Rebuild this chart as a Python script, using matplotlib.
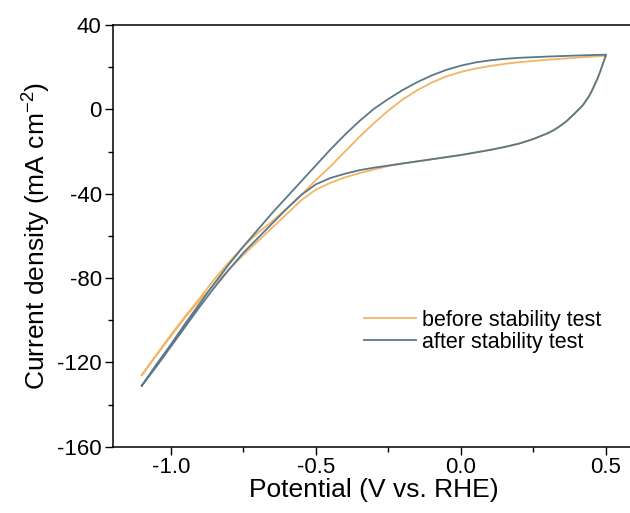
import matplotlib
matplotlib.use("Agg")
import matplotlib.pyplot as plt
from matplotlib.ticker import MultipleLocator, FormatStrFormatter

plt.rcParams['font.family'] = ['Liberation Sans', 'DejaVu Sans']
plt.rcParams['mathtext.default'] = 'regular'
plt.rcParams['axes.unicode_minus'] = False

# anodic (return) branch, -1.1 V -> 0.5 V
up_x = [-1.1, -1.05, -1.0, -0.95, -0.9, -0.85, -0.8, -0.75, -0.7, -0.65, -0.6, -0.55, -0.5,
        -0.45, -0.4, -0.35, -0.3, -0.25, -0.2, -0.15, -0.1, -0.05, 0.0, 0.05, 0.1, 0.15,
        0.2, 0.3, 0.4, 0.5]
before_up = [-126, -116.5, -107, -98, -89.5, -80.5, -72.5, -65, -58.5, -53, -47, -40.5, -33.5,
             -27, -20, -13, -6.5, -0.5, 4.8, 9.2, 12.8, 15.7, 17.8, 19.4, 20.6, 21.6,
             22.4, 23.6, 24.6, 25.5]
after_up = [-131, -121, -111.5, -101.5, -92, -82.5, -73.5, -65, -57, -49, -41.5, -34, -26.5,
            -19, -12, -5.5, 0.3, 5, 9.3, 13, 16.2, 18.8, 20.8, 22.3, 23.3, 24,
            24.5, 25.1, 25.6, 26]

# cathodic branch, 0.5 V -> -1.1 V
down_x = [0.5, 0.49, 0.48, 0.47, 0.46, 0.45, 0.44, 0.42, 0.4, 0.38, 0.36, 0.34, 0.32, 0.3,
          0.25, 0.2, 0.15, 0.1, 0.05, 0.0, -0.05, -0.1, -0.15, -0.2, -0.25, -0.3, -0.35,
          -0.4, -0.45, -0.5, -0.55, -0.6, -0.65, -0.7, -0.75, -0.8, -0.85, -0.9, -0.95,
          -1.0, -1.05, -1.1]
before_down = [25.5, 22, 18, 14.5, 11.5, 8.5, 6, 2, -0.8, -3.5, -6, -8, -9.8, -11.2,
               -14, -16.2, -17.8, -19.2, -20.4, -21.6, -22.6, -23.6, -24.6, -25.6, -26.8, -28.5, -30.2,
               -32.2, -34.8, -38, -43, -49.5, -56, -62.5, -69, -76, -83, -90.5, -98.5,
               -107.5, -116.5, -126]
after_down = [26, 22, 18, 14.5, 11.5, 8.5, 6, 2, -0.8, -3.5, -6, -8, -9.8, -11.2,
              -14, -16.2, -17.8, -19.2, -20.4, -21.6, -22.6, -23.6, -24.6, -25.6, -26.6, -27.6, -28.8,
              -30.5, -32.5, -35.5, -40.5, -47, -54, -61, -68, -76, -84.5, -93.5, -103,
              -112.5, -122, -131]

labels = ["before stability test", "after stability test"]
colors = ["#F2B562", "#5B7889"]

fig = plt.figure(figsize=(6.3, 5.13), dpi=100)
ax = fig.add_axes([0.179, 0.129, 0.829, 0.822])

ax.plot(up_x + down_x, before_up + before_down, color=colors[0], lw=1.3, label=labels[0])
ax.plot(up_x + down_x, after_up + after_down, color=colors[1], lw=1.3, label=labels[1])

ax.set_xlim(-1.2, 0.6)
ax.set_ylim(-160, 40)
ax.xaxis.set_major_locator(MultipleLocator(0.5))
ax.xaxis.set_minor_locator(MultipleLocator(0.25))
ax.yaxis.set_major_locator(MultipleLocator(40))
ax.yaxis.set_minor_locator(MultipleLocator(20))
ax.xaxis.set_major_formatter(FormatStrFormatter('%.1f'))

ax.tick_params(which='major', direction='out', length=6, width=1, labelsize=16, pad=2)
ax.tick_params(axis='x', which='major', pad=1)
ax.tick_params(which='minor', direction='out', length=3.5, width=1)
for s in ax.spines.values():
    s.set_linewidth(1.1)

ax.set_xlabel("Potential (V vs. RHE)", fontsize=19, labelpad=0)
ax.set_ylabel("Current density (mA cm$^{-2}$)", fontsize=19, labelpad=3)

ax.legend(loc='center left', bbox_to_anchor=(0.481, 0.274), frameon=False, fontsize=15.5,
          handlelength=2.4, handletextpad=0.3, labelspacing=0.05,
          borderpad=0, borderaxespad=0)

fig.savefig("out.png", dpi=100)
